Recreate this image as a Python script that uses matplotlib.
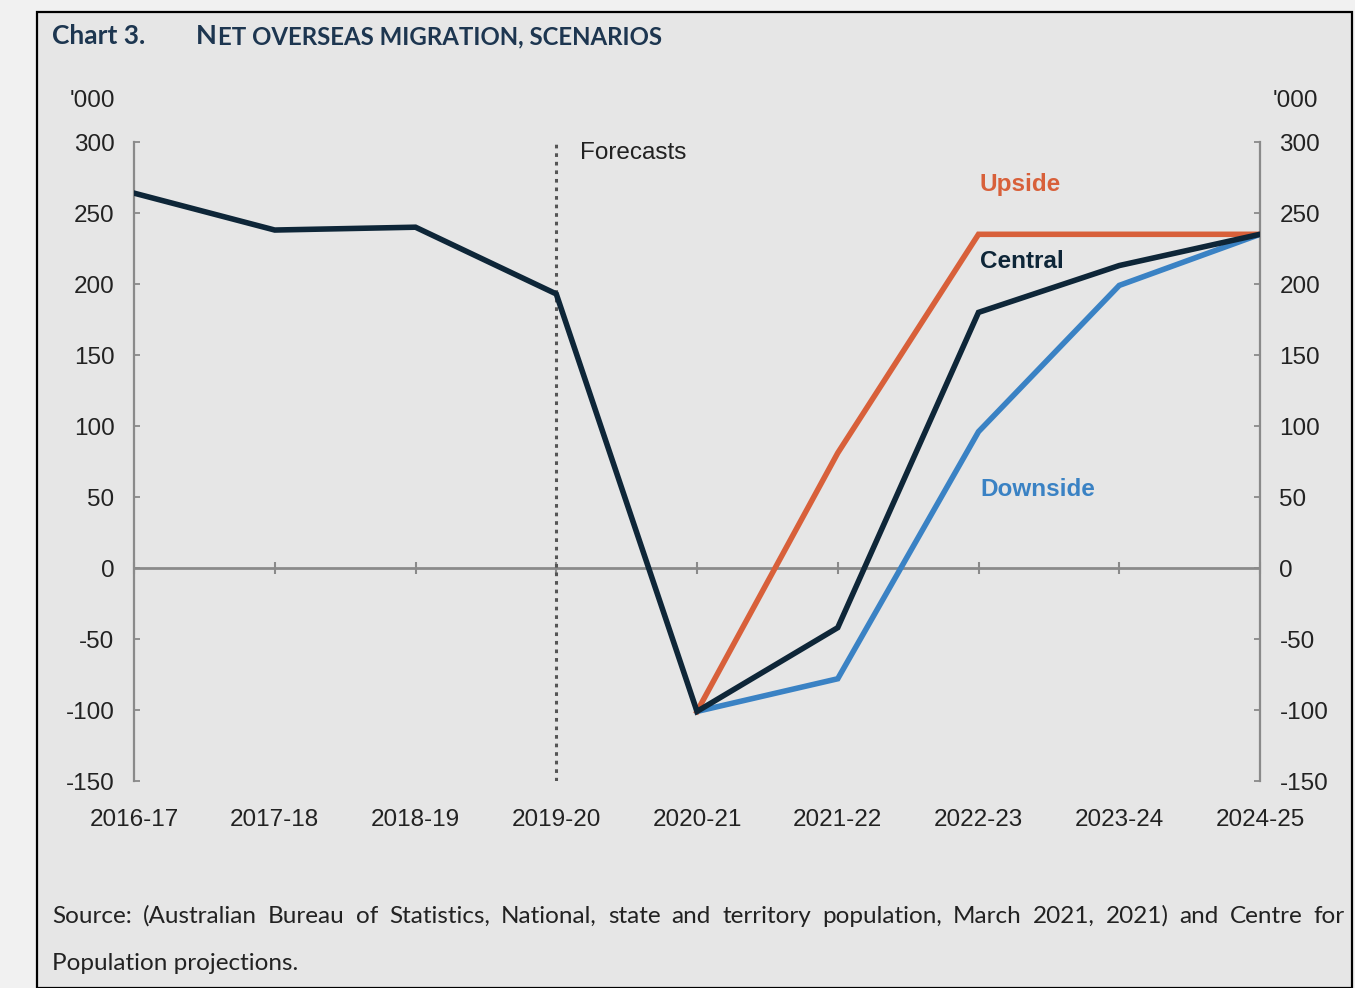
import matplotlib
matplotlib.use("Agg")
import matplotlib.pyplot as plt
from matplotlib.patches import Rectangle

# ---- data ('000 persons) ----
years = ["2016-17", "2017-18", "2018-19", "2019-20", "2020-21",
         "2021-22", "2022-23", "2023-24", "2024-25"]
central = [264, 238, 240, 193, -101, -42, 180, 213, 235]
upside_years = ["2020-21", "2021-22", "2022-23", "2023-24", "2024-25"]
upside = [-101, 81, 235, 235, 235]
downside_years = ["2020-21", "2021-22", "2022-23", "2023-24", "2024-25"]
downside = [-101, -78, 96, 199, 235]
y_ticks = [300, 250, 200, 150, 100, 50, 0, -50, -100, -150]
forecast_start = "2019-20"

NAVY = "#0e2638"
ORANGE = "#d8603a"
BLUE = "#3a82c4"
GREY = "#8a8a8a"
TXT = "#222222"

W, H = 1355, 988
fig = plt.figure(figsize=(W / 100, H / 100), dpi=100, facecolor="#f1f1f1")

# framed panel behind everything
fig.patches.append(Rectangle((37 / W, 0), (1352 - 37) / W, (H - 12) / H,
                             transform=fig.transFigure, facecolor="#e6e6e6",
                             edgecolor="black", linewidth=1.6, zorder=-5))

SANS = ["Liberation Sans", "DejaVu Sans"]
HEAD = ["Lato", "Open Sans", "DejaVu Sans"]
FS = 17.5

ax_l, ax_r, ax_t, ax_b = 134, 1260, 142, 781
ax = fig.add_axes([ax_l / W, 1 - ax_b / H, (ax_r - ax_l) / W, (ax_b - ax_t) / H])
ax.set_facecolor("none")
ax.set_zorder(2)

xi = {y: i for i, y in enumerate(years)}
x_c = [xi[y] for y in years]
x_u = [xi[y] for y in upside_years]
x_d = [xi[y] for y in downside_years]

ax.set_xlim(0, len(years) - 1)
ax.set_ylim(-150, 300)

# zero line with category tick marks
ax.axhline(0, color=GREY, lw=2.0, zorder=1)
ax.plot(x_c, [0] * len(x_c), ls="none", marker="|", ms=9, mew=1.5,
        color=GREY, zorder=1, clip_on=False)
# forecast divider
ax.axvline(xi[forecast_start], color="#555555", lw=2.2, ls=(0, (1.2, 1.6)), zorder=1)

ax.plot(x_d, downside, color=BLUE, lw=4.0, zorder=3, solid_joinstyle="miter")
ax.plot(x_u, upside, color=ORANGE, lw=4.0, zorder=3, solid_joinstyle="miter")
ax.plot(x_c, central, color=NAVY, lw=4.0, zorder=4, solid_joinstyle="miter")

for s in ["top", "bottom"]:
    ax.spines[s].set_visible(False)
for s in ["left", "right"]:
    ax.spines[s].set_color(GREY)
    ax.spines[s].set_linewidth(1.6)

ax.set_yticks(y_ticks)
ax.set_yticklabels([str(v) for v in y_ticks], family=SANS, fontsize=FS, color=TXT)
ax.tick_params(axis="y", direction="in", length=4, width=1.3, color=GREY,
               left=True, right=True, labelleft=True, labelright=True, pad=14)
ax.set_xticks(x_c)
ax.set_xticklabels(years, family=SANS, fontsize=FS, color=TXT)
ax.tick_params(axis="x", length=0, pad=20.5)

# unit labels
fig.text(115 / W, 1 - 101 / H, "'000", ha="right", va="center",
         family=SANS, fontsize=FS, color=TXT)
fig.text(1273 / W, 1 - 101 / H, "'000", ha="left", va="center",
         family=SANS, fontsize=FS, color=TXT)

ax.text(xi[forecast_start] + 0.17, 292, "Forecasts", ha="left", va="center",
        family=SANS, fontsize=FS, color=TXT)

# series labels
lab_x = xi["2022-23"] + 0.01
ax.text(lab_x, 270, "Upside", color=ORANGE, fontsize=FS, fontweight="bold",
        family=SANS, ha="left", va="center")
ax.text(lab_x, 216, "Central", color=NAVY, fontsize=FS, fontweight="bold",
        family=SANS, ha="left", va="center")
ax.text(lab_x, 55, "Downside", color=BLUE, fontsize=FS, fontweight="bold",
        family=SANS, ha="left", va="center")

# title with small caps
TCOL = "#1d3650"
fig.text(52 / W, 1 - 44 / H, "Chart 3.", family=HEAD, fontsize=19,
         fontweight="bold", color=TCOL, ha="left", va="baseline")
t1 = fig.text(196 / W, 1 - 44 / H, "N", family=HEAD, fontsize=19.5,
              fontweight="bold", color=TCOL, ha="left", va="baseline")
fig.canvas.draw()
r = fig.canvas.get_renderer()
bb = t1.get_window_extent(r)
fig.text(bb.x1 / W + 1 / W, 1 - 44 / H, "ET OVERSEAS MIGRATION, SCENARIOS",
         family=HEAD, fontsize=17.3, fontweight="bold", color=TCOL,
         ha="left", va="baseline")

# justified source note
line1 = ("Source: (Australian Bureau of Statistics, National, state and territory "
         "population, March 2021, 2021) and Centre for").split()
x0, x1 = 52, 1345
words = [fig.text(0, 0, w, family=HEAD, fontsize=17.5, color=TXT, va="baseline")
         for w in line1]
fig.canvas.draw()
widths = [w.get_window_extent(r).width for w in words]
gap = (x1 - x0 - sum(widths)) / (len(words) - 1)
cx = x0
for w, wd in zip(words, widths):
    w.set_position((cx / W, 1 - 923 / H))
    cx += wd + gap
fig.text(x0 / W, 1 - 970 / H, "Population projections.", family=HEAD,
         fontsize=17.5, color=TXT, va="baseline")

fig.savefig("out.png", dpi=100, facecolor=fig.get_facecolor())
